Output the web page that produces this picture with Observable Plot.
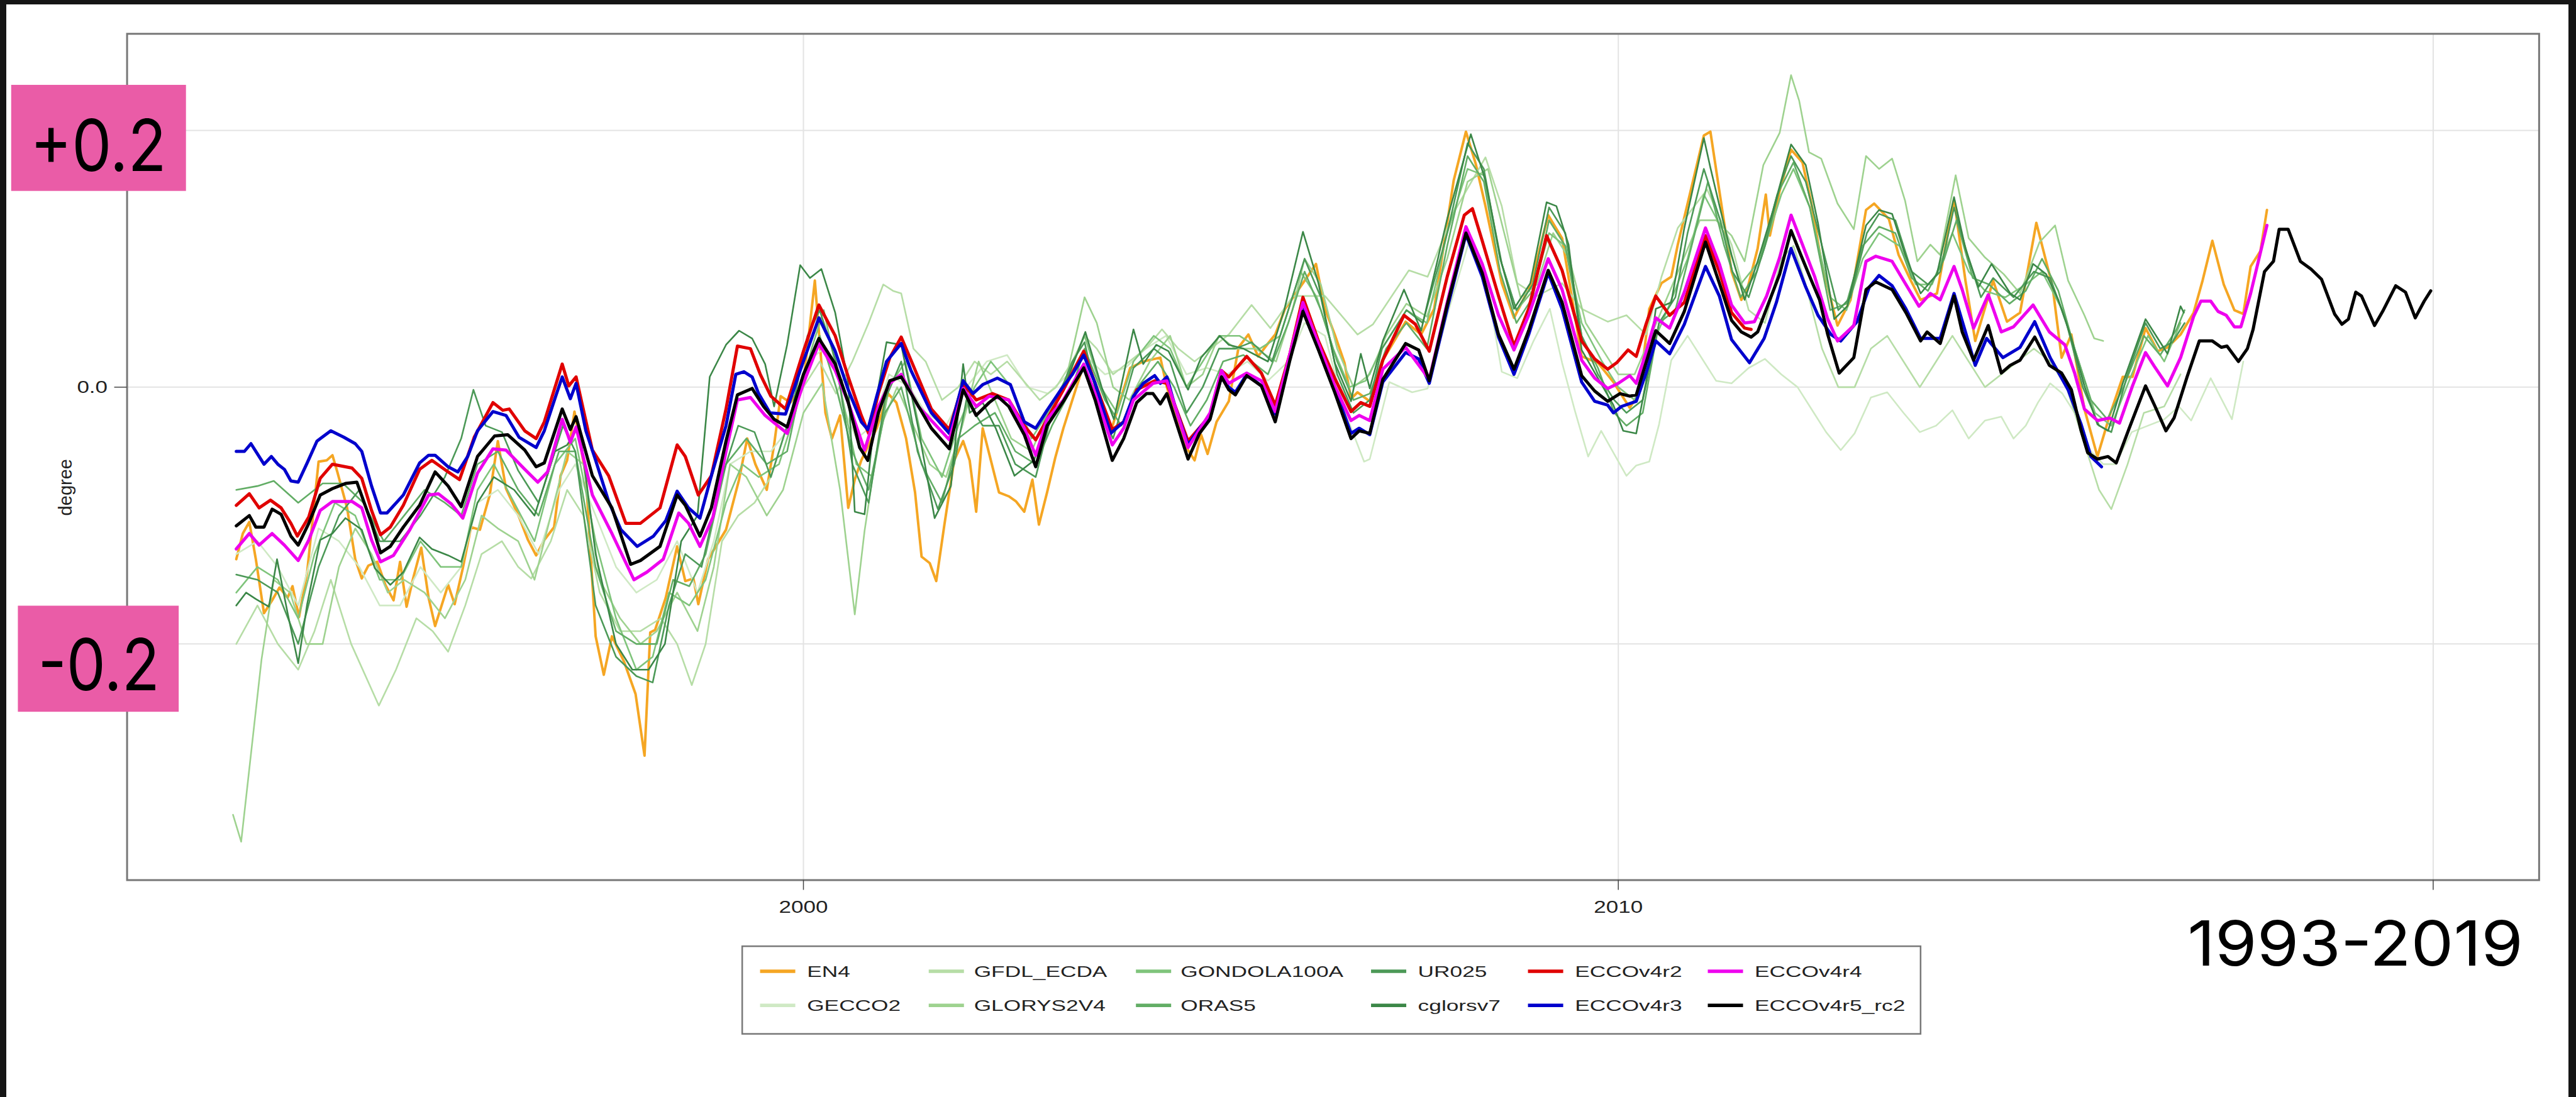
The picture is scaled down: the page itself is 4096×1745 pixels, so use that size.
<!DOCTYPE html>
<html><head><meta charset="utf-8">
<script src="https://cdn.jsdelivr.net/npm/d3@7"></script>
<script src="https://cdn.jsdelivr.net/npm/@observablehq/plot@0.6"></script>
<style>
html,body{margin:0;padding:0;background:#151515;width:4096px;height:1745px;overflow:hidden;}
#page{position:absolute;left:10px;top:7px;width:4074px;height:1738px;background:#fff;}
#chart{position:absolute;left:0;top:0;}
</style></head><body>
<div id="page"></div>
<div id="chart"></div>
<script>
// ---------------- data (year, degree) ----------------
const EN4 = [[1993.04,-0.134],[1993.12,-0.114],[1993.20,-0.105],[1993.28,-0.134],[1993.38,-0.176],[1993.48,-0.166],[1993.57,-0.156],[1993.67,-0.164],[1993.73,-0.155],[1993.81,-0.179],[1993.91,-0.144],[1994.05,-0.058],[1994.15,-0.057],[1994.22,-0.053],[1994.28,-0.066],[1994.40,-0.094],[1994.50,-0.134],[1994.58,-0.149],[1994.66,-0.139],[1994.77,-0.136],[1994.87,-0.154],[1994.97,-0.166],[1995.05,-0.136],[1995.13,-0.171],[1995.21,-0.149],[1995.31,-0.125],[1995.40,-0.164],[1995.48,-0.186],[1995.58,-0.166],[1995.64,-0.154],[1995.72,-0.169],[1995.82,-0.141],[1995.92,-0.109],[1996.03,-0.111],[1996.15,-0.084],[1996.25,-0.042],[1996.35,-0.079],[1996.51,-0.101],[1996.62,-0.119],[1996.72,-0.131],[1996.82,-0.119],[1996.94,-0.109],[1997.02,-0.069],[1997.10,-0.057],[1997.19,-0.019],[1997.33,-0.069],[1997.45,-0.194],[1997.55,-0.224],[1997.65,-0.194],[1997.80,-0.214],[1997.94,-0.239],[1998.05,-0.287],[1998.12,-0.191],[1998.18,-0.189],[1998.31,-0.164],[1998.45,-0.124],[1998.55,-0.151],[1998.65,-0.149],[1998.71,-0.169],[1998.83,-0.134],[1999.05,-0.111],[1999.21,-0.072],[1999.31,-0.040],[1999.41,-0.060],[1999.55,-0.080],[1999.64,-0.045],[1999.72,-0.007],[1999.84,-0.012],[2000.00,0.003],[2000.14,0.083],[2000.19,0.043],[2000.27,-0.020],[2000.35,-0.040],[2000.45,-0.022],[2000.55,-0.094],[2000.63,-0.072],[2000.71,-0.057],[2000.90,-0.032],[2001.04,-0.005],[2001.14,-0.012],[2001.26,-0.040],[2001.37,-0.082],[2001.45,-0.132],[2001.55,-0.137],[2001.63,-0.151],[2001.73,-0.107],[2001.85,-0.057],[2001.96,-0.042],[2002.04,-0.057],[2002.12,-0.097],[2002.20,-0.032],[2002.28,-0.052],[2002.40,-0.082],[2002.52,-0.085],[2002.61,-0.089],[2002.71,-0.097],[2002.81,-0.072],[2002.89,-0.107],[2002.99,-0.082],[2003.09,-0.055],[2003.19,-0.032],[2003.44,0.018],[2003.77,-0.035],[2004.01,0.015],[2004.17,0.020],[2004.38,0.023],[2004.46,0.000],[2004.68,-0.045],[2004.80,-0.057],[2004.88,-0.037],[2004.96,-0.052],[2005.07,-0.027],[2005.22,-0.011],[2005.34,0.031],[2005.46,0.041],[2005.58,0.024],[2005.70,0.034],[2005.79,0.041],[2005.91,0.061],[2006.13,0.081],[2006.29,0.096],[2006.40,0.061],[2006.52,0.041],[2006.64,0.019],[2006.72,-0.009],[2006.80,-0.004],[2006.95,-0.011],[2007.11,0.021],[2007.39,0.051],[2007.58,0.041],[2007.74,0.061],[2007.98,0.161],[2008.13,0.199],[2008.25,0.174],[2008.37,0.141],[2008.57,0.081],[2008.72,0.054],[2008.92,0.079],[2009.14,0.134],[2009.31,0.116],[2009.55,0.024],[2009.75,0.019],[2009.94,0.004],[2010.14,-0.016],[2010.26,-0.004],[2010.38,0.061],[2010.53,0.081],[2010.65,0.086],[2010.73,0.111],[2011.05,0.196],[2011.13,0.199],[2011.28,0.136],[2011.39,0.090],[2011.51,0.068],[2011.59,0.078],[2011.71,0.108],[2011.81,0.150],[2011.86,0.118],[2011.98,0.153],[2012.12,0.185],[2012.26,0.175],[2012.37,0.143],[2012.49,0.098],[2012.69,0.048],[2012.85,0.068],[2013.04,0.138],[2013.14,0.143],[2013.32,0.131],[2013.44,0.103],[2013.59,0.083],[2013.71,0.068],[2013.91,0.073],[2014.12,0.146],[2014.26,0.083],[2014.38,0.036],[2014.60,0.083],[2014.77,0.051],[2014.93,0.058],[2015.13,0.128],[2015.33,0.078],[2015.44,0.023],[2015.56,0.041],[2015.72,-0.017],[2015.88,-0.054],[2016.03,-0.022],[2016.19,0.008],[2016.31,0.008],[2016.47,0.046],[2016.62,0.028],[2016.74,0.031],[2016.90,0.041],[2017.06,0.058],[2017.17,0.083],[2017.29,0.114],[2017.43,0.080],[2017.56,0.060],[2017.67,0.057],[2017.76,0.094],[2017.88,0.106],[2017.96,0.138]];

const GECCO2 = [[1993.04,-0.13],[1993.3,-0.12],[1993.55,-0.14],[1993.8,-0.17],[1994.05,-0.11],[1994.3,-0.12],[1994.55,-0.14],[1994.8,-0.17],[1995.05,-0.17],[1995.3,-0.14],[1995.55,-0.16],[1995.8,-0.14],[1996.0,-0.09],[1996.25,-0.08],[1996.5,-0.1],[1996.75,-0.13],[1997.0,-0.08],[1997.2,-0.06],[1997.45,-0.1],[1997.7,-0.14],[1997.95,-0.16],[1998.2,-0.15],[1998.45,-0.12],[1998.7,-0.16],[1998.9,-0.12],[1999.1,-0.06],[1999.35,-0.05],[1999.6,-0.05],[1999.85,-0.03],[2000.05,0.02],[2000.25,0.03],[2000.45,-0.01],[2000.65,-0.04],[2000.85,-0.03],[2001.05,0.01],[2001.3,0.0],[2001.5,-0.02],[2001.75,-0.03],[2002.0,0.0],[2002.25,0.02],[2002.5,0.025],[2002.75,0.0],[2003.0,-0.005],[2003.25,0.01],[2003.45,0.025],[2003.7,0.01],[2003.95,0.015],[2004.2,0.03],[2004.45,0.04],[2004.7,0.01],[2004.95,0.015],[2005.2,0.01],[2005.45,0.02],[2005.7,0.005],[2005.95,0.02],[2006.15,0.05],[2006.4,0.04],[2006.65,-0.02],[2006.88,-0.058],[2006.95,-0.056],[2007.19,0.004],[2007.47,-0.004],[2007.66,-0.001],[2007.9,0.056],[2008.17,0.114],[2008.37,0.086],[2008.57,0.012],[2008.76,0.007],[2008.96,0.036],[2009.16,0.061],[2009.31,0.019],[2009.47,-0.019],[2009.63,-0.054],[2009.79,-0.034],[2009.94,-0.051],[2010.1,-0.069],[2010.22,-0.061],[2010.38,-0.058],[2010.5,-0.029],[2010.65,0.021],[2010.85,0.04],[2011.05,0.02],[2011.2,0.005],[2011.39,0.003],[2011.6,0.015],[2011.8,0.022],[2012.0,0.01],[2012.2,0.0],[2012.4,-0.02],[2012.55,-0.035],[2012.73,-0.049],[2012.9,-0.036],[2013.1,-0.008],[2013.3,-0.004],[2013.5,-0.02],[2013.7,-0.035],[2013.9,-0.03],[2014.1,-0.018],[2014.3,-0.04],[2014.5,-0.026],[2014.7,-0.023],[2014.85,-0.04],[2015.0,-0.03],[2015.15,-0.012],[2015.3,0.003],[2015.45,-0.005],[2015.6,-0.02],[2015.8,-0.05],[2015.95,-0.06],[2016.1,-0.06],[2016.3,-0.035],[2016.5,-0.03],[2016.7,-0.025],[2016.88,-0.015],[2017.03,-0.026],[2017.27,0.007],[2017.53,-0.025],[2017.67,0.02]];

const GFDL_ECDA = [[1993.04,-0.2],[1993.3,-0.17],[1993.55,-0.2],[1993.8,-0.22],[1994.0,-0.19],[1994.2,-0.15],[1994.45,-0.2],[1994.79,-0.248],[1995.0,-0.22],[1995.25,-0.18],[1995.45,-0.19],[1995.64,-0.206],[1995.85,-0.17],[1996.05,-0.13],[1996.3,-0.12],[1996.5,-0.14],[1996.66,-0.149],[1996.9,-0.12],[1997.1,-0.08],[1997.3,-0.1],[1997.5,-0.16],[1997.75,-0.19],[1998.0,-0.19],[1998.25,-0.18],[1998.45,-0.2],[1998.63,-0.232],[1998.8,-0.2],[1999.0,-0.12],[1999.2,-0.1],[1999.4,-0.09],[1999.6,-0.07],[1999.8,-0.03],[2000.0,0.0],[2000.2,0.02],[2000.4,-0.005],[2000.6,0.02],[2000.8,0.05],[2000.98,0.08],[2001.1,0.075],[2001.2,0.073],[2001.35,0.03],[2001.5,0.02],[2001.7,-0.01],[2001.9,0.0],[2002.1,0.02],[2002.3,0.01],[2002.5,0.02],[2002.7,0.005],[2002.9,-0.01],[2003.1,0.0],[2003.3,0.02],[2003.45,0.04],[2003.6,0.03],[2003.8,0.01],[2004.0,0.02],[2004.2,0.03],[2004.4,0.045],[2004.6,0.03],[2004.8,0.02],[2005.0,0.03],[2005.22,0.041],[2005.5,0.064],[2005.73,0.046],[2006.01,0.071],[2006.4,0.071],[2006.8,0.041],[2006.99,0.049],[2007.43,0.091],[2007.66,0.086],[2007.98,0.136],[2008.37,0.179],[2008.57,0.141],[2008.76,0.081],[2009.0,0.071],[2009.31,0.081],[2009.55,0.061],[2009.87,0.051],[2010.1,0.056],[2010.34,0.041],[2010.53,0.086],[2010.73,0.124],[2011.09,0.154],[2011.39,0.111],[2011.6,0.06],[2011.8,0.05],[2012.0,0.1],[2012.15,0.11],[2012.3,0.08],[2012.5,0.03],[2012.7,0.0],[2012.9,0.0],[2013.1,0.03],[2013.3,0.04],[2013.5,0.02],[2013.7,0.0],[2013.9,0.02],[2014.1,0.04],[2014.3,0.02],[2014.5,0.0],[2014.7,0.01],[2014.9,0.02],[2015.1,0.03],[2015.3,0.02],[2015.5,0.0],[2015.7,-0.04],[2015.9,-0.08],[2016.05,-0.095],[2016.25,-0.06],[2016.45,-0.02],[2016.7,-0.015],[2016.9,0.01]];

const GLORYS2V4 = [[1993.0,-0.333],[1993.1,-0.354],[1993.35,-0.212],[1993.5,-0.15],[1993.7,-0.16],[1993.9,-0.2],[1994.1,-0.2],[1994.3,-0.14],[1994.5,-0.11],[1994.7,-0.13],[1994.9,-0.16],[1995.1,-0.15],[1995.35,-0.16],[1995.6,-0.18],[1995.85,-0.15],[1996.05,-0.1],[1996.25,-0.11],[1996.5,-0.12],[1996.7,-0.15],[1996.9,-0.1],[1997.1,-0.05],[1997.3,-0.06],[1997.5,-0.15],[1997.75,-0.18],[1998.0,-0.2],[1998.2,-0.19],[1998.45,-0.16],[1998.7,-0.19],[1998.9,-0.14],[1999.1,-0.06],[1999.3,-0.07],[1999.55,-0.1],[1999.75,-0.08],[2000.0,-0.02],[2000.23,0.003],[2000.45,-0.08],[2000.63,-0.177],[2000.75,-0.112],[2000.94,-0.032],[2001.15,0.0],[2001.35,-0.03],[2001.55,-0.06],[2001.75,-0.07],[2001.95,-0.03],[2002.15,0.02],[2002.35,-0.01],[2002.55,-0.04],[2002.8,-0.05],[2003.0,-0.02],[2003.2,0.0],[2003.45,0.07],[2003.6,0.05],[2003.8,0.0],[2004.0,-0.01],[2004.25,0.02],[2004.5,0.04],[2004.7,0.0],[2004.9,0.01],[2005.1,0.04],[2005.3,0.03],[2005.55,0.03],[2005.8,0.02],[2006.0,0.06],[2006.15,0.1],[2006.35,0.08],[2006.55,0.03],[2006.75,0.0],[2006.95,0.01],[2007.15,0.04],[2007.4,0.065],[2007.65,0.055],[2007.9,0.1],[2008.15,0.16],[2008.4,0.17],[2008.6,0.12],[2008.8,0.07],[2009.0,0.08],[2009.2,0.12],[2009.4,0.1],[2009.6,0.05],[2009.8,0.03],[2010.0,0.01],[2010.2,0.01],[2010.4,0.04],[2010.6,0.07],[2010.8,0.1],[2011.0,0.13],[2011.2,0.13],[2011.39,0.118],[2011.55,0.098],[2011.78,0.173],[2011.98,0.198],[2012.12,0.243],[2012.22,0.223],[2012.34,0.183],[2012.49,0.178],[2012.69,0.143],[2012.89,0.123],[2013.04,0.18],[2013.2,0.17],[2013.36,0.178],[2013.52,0.145],[2013.67,0.098],[2013.83,0.111],[2013.95,0.103],[2014.14,0.165],[2014.3,0.116],[2014.5,0.101],[2014.73,0.088],[2014.93,0.073],[2015.17,0.113],[2015.36,0.126],[2015.52,0.083],[2015.72,0.056],[2015.84,0.038],[2015.95,0.036]];

const GONDOLA100A = [[1993.04,-0.16],[1993.3,-0.14],[1993.55,-0.15],[1993.8,-0.18],[1994.0,-0.13],[1994.25,-0.09],[1994.5,-0.1],[1994.8,-0.15],[1995.05,-0.15],[1995.3,-0.12],[1995.55,-0.14],[1995.8,-0.14],[1996.0,-0.08],[1996.2,-0.06],[1996.45,-0.09],[1996.7,-0.12],[1996.95,-0.06],[1997.2,-0.04],[1997.45,-0.12],[1997.7,-0.18],[1997.95,-0.22],[1998.15,-0.21],[1998.35,-0.16],[1998.6,-0.17],[1998.8,-0.15],[1999.05,-0.09],[1999.25,-0.06],[1999.45,-0.07],[1999.7,-0.06],[1999.9,-0.02],[2000.1,0.03],[2000.25,0.06],[2000.45,0.0],[2000.65,-0.06],[2000.85,-0.07],[2001.05,0.0],[2001.25,0.02],[2001.45,-0.04],[2001.7,-0.07],[2001.9,-0.03],[2002.1,0.0],[2002.3,0.02],[2002.55,0.0],[2002.8,-0.04],[2003.0,-0.02],[2003.25,0.01],[2003.45,0.04],[2003.65,0.0],[2003.85,-0.02],[2004.05,0.02],[2004.3,0.04],[2004.5,0.03],[2004.7,0.0],[2004.9,0.02],[2005.1,0.04],[2005.35,0.04],[2005.6,0.03],[2005.85,0.04],[2006.1,0.09],[2006.3,0.07],[2006.5,0.03],[2006.7,0.0],[2006.9,0.005],[2007.1,0.03],[2007.4,0.06],[2007.65,0.05],[2007.9,0.12],[2008.15,0.17],[2008.35,0.165],[2008.55,0.1],[2008.75,0.06],[2008.95,0.075],[2009.15,0.12],[2009.35,0.11],[2009.55,0.05],[2009.8,0.02],[2010.0,0.0],[2010.2,-0.01],[2010.4,0.03],[2010.6,0.06],[2010.85,0.1],[2011.05,0.15],[2011.3,0.12],[2011.5,0.08],[2011.75,0.1],[2012.0,0.15],[2012.15,0.17],[2012.35,0.14],[2012.6,0.07],[2012.8,0.06],[2013.0,0.1],[2013.2,0.12],[2013.45,0.11],[2013.65,0.08],[2013.85,0.08],[2014.1,0.12],[2014.3,0.09],[2014.5,0.075],[2014.75,0.07],[2015.0,0.08],[2015.2,0.09],[2015.45,0.06],[2015.65,0.02],[2015.85,-0.02],[2016.05,-0.03],[2016.3,0.01],[2016.5,0.04],[2016.7,0.02],[2016.9,0.05]];

const ORAS5 = [[1993.04,-0.08],[1993.3,-0.077],[1993.5,-0.073],[1993.8,-0.09],[1994.1,-0.075],[1994.35,-0.075],[1994.6,-0.09],[1994.85,-0.12],[1995.1,-0.1],[1995.35,-0.08],[1995.6,-0.09],[1995.8,-0.1],[1996.0,-0.06],[1996.25,-0.05],[1996.5,-0.08],[1996.75,-0.1],[1997.0,-0.05],[1997.2,-0.05],[1997.45,-0.14],[1997.7,-0.19],[1997.95,-0.2],[1998.2,-0.2],[1998.4,-0.15],[1998.6,-0.155],[1998.8,-0.13],[1999.05,-0.06],[1999.3,-0.04],[1999.55,-0.06],[1999.8,-0.05],[2000.0,0.01],[2000.2,0.04],[2000.4,0.0],[2000.6,-0.05],[2000.8,-0.08],[2001.0,-0.02],[2001.2,0.0],[2001.45,-0.06],[2001.7,-0.09],[2001.9,-0.04],[2002.1,-0.03],[2002.35,-0.02],[2002.6,-0.05],[2002.85,-0.06],[2003.05,-0.03],[2003.3,0.0],[2003.45,0.03],[2003.7,-0.01],[2003.9,-0.03],[2004.1,0.0],[2004.35,0.02],[2004.55,0.0],[2004.75,-0.03],[2004.95,-0.01],[2005.15,0.02],[2005.4,0.025],[2005.7,0.01],[2005.95,0.05],[2006.15,0.09],[2006.35,0.06],[2006.55,0.02],[2006.75,-0.01],[2006.95,-0.005],[2007.15,0.03],[2007.4,0.05],[2007.65,0.03],[2007.9,0.11],[2008.15,0.18],[2008.35,0.16],[2008.55,0.09],[2008.75,0.05],[2008.95,0.07],[2009.15,0.13],[2009.35,0.11],[2009.55,0.04],[2009.75,0.015],[2009.95,-0.02],[2010.1,-0.03],[2010.3,-0.02],[2010.5,0.05],[2010.7,0.06],[2010.9,0.11],[2011.1,0.16],[2011.3,0.11],[2011.5,0.07],[2011.7,0.09],[2011.95,0.15],[2012.15,0.175],[2012.35,0.14],[2012.6,0.06],[2012.8,0.065],[2013.0,0.11],[2013.2,0.125],[2013.4,0.12],[2013.6,0.085],[2013.8,0.075],[2014.0,0.1],[2014.15,0.13],[2014.35,0.085],[2014.55,0.08],[2014.8,0.065],[2015.0,0.075],[2015.2,0.1],[2015.4,0.075],[2015.6,0.03],[2015.8,-0.01],[2016.0,-0.025],[2016.2,0.0],[2016.45,0.04],[2016.65,0.025],[2016.85,0.045],[2016.95,0.06]];

const UR025 = [[1993.04,-0.146],[1993.3,-0.15],[1993.55,-0.16],[1993.8,-0.2],[1994.05,-0.14],[1994.3,-0.1],[1994.55,-0.08],[1994.8,-0.12],[1995.05,-0.12],[1995.3,-0.1],[1995.6,-0.07],[1995.8,-0.04],[1995.95,-0.002],[1996.1,-0.03],[1996.3,-0.035],[1996.5,-0.065],[1996.75,-0.09],[1997.05,-0.03],[1997.2,-0.05],[1997.45,-0.17],[1997.7,-0.21],[1997.95,-0.225],[1998.15,-0.23],[1998.35,-0.17],[1998.55,-0.13],[1998.75,-0.14],[1999.0,-0.07],[1999.2,-0.03],[1999.4,-0.035],[1999.6,-0.07],[1999.85,-0.02],[2000.05,0.04],[2000.2,0.06],[2000.4,0.02],[2000.6,-0.06],[2000.8,-0.09],[2001.0,-0.01],[2001.2,0.02],[2001.4,-0.05],[2001.65,-0.095],[2001.85,-0.06],[2002.0,-0.01],[2002.2,-0.03],[2002.4,-0.03],[2002.6,-0.06],[2002.85,-0.07],[2003.05,-0.02],[2003.3,0.02],[2003.45,0.035],[2003.65,-0.02],[2003.8,-0.04],[2004.05,0.015],[2004.3,0.03],[2004.5,0.02],[2004.7,-0.02],[2004.9,0.0],[2005.1,0.03],[2005.3,0.03],[2005.5,0.035],[2005.75,0.02],[2006.0,0.07],[2006.15,0.1],[2006.35,0.07],[2006.55,0.01],[2006.75,-0.02],[2006.95,-0.01],[2007.1,0.03],[2007.4,0.06],[2007.6,0.05],[2007.9,0.12],[2008.15,0.19],[2008.35,0.17],[2008.55,0.1],[2008.75,0.06],[2008.95,0.08],[2009.15,0.14],[2009.35,0.12],[2009.55,0.04],[2009.75,0.01],[2009.95,-0.01],[2010.1,-0.02],[2010.3,-0.01],[2010.5,0.05],[2010.7,0.07],[2010.85,0.12],[2011.05,0.17],[2011.25,0.13],[2011.4,0.09],[2011.6,0.07],[2011.8,0.11],[2012.0,0.16],[2012.12,0.18],[2012.3,0.16],[2012.5,0.11],[2012.7,0.06],[2012.85,0.07],[2013.05,0.12],[2013.2,0.135],[2013.4,0.13],[2013.6,0.09],[2013.8,0.08],[2013.95,0.09],[2014.12,0.14],[2014.3,0.1],[2014.45,0.07],[2014.6,0.085],[2014.85,0.07],[2015.1,0.09],[2015.3,0.085],[2015.5,0.05],[2015.7,0.0],[2015.9,-0.03],[2016.05,-0.035],[2016.25,0.01],[2016.47,0.05],[2016.65,0.03],[2016.8,0.035],[2016.95,0.05]];

const cglorsv7 = [[1993.04,-0.170],[1993.16,-0.160],[1993.28,-0.165],[1993.44,-0.171],[1993.54,-0.134],[1993.67,-0.176],[1993.80,-0.215],[1993.91,-0.169],[1994.07,-0.119],[1994.22,-0.114],[1994.38,-0.102],[1994.58,-0.111],[1994.74,-0.141],[1994.93,-0.154],[1995.09,-0.144],[1995.29,-0.117],[1995.44,-0.126],[1995.64,-0.131],[1995.80,-0.136],[1996.0,-0.09],[1996.2,-0.07],[1996.45,-0.08],[1996.7,-0.1],[1996.95,-0.05],[1997.1,-0.045],[1997.25,-0.03],[1997.45,-0.13],[1997.7,-0.2],[1997.9,-0.22],[1998.1,-0.22],[1998.3,-0.2],[1998.5,-0.12],[1998.7,-0.1],[1998.85,0.008],[1999.05,0.033],[1999.21,0.044],[1999.37,0.038],[1999.53,0.018],[1999.64,-0.015],[1999.80,0.033],[1999.96,0.095],[2000.08,0.085],[2000.22,0.092],[2000.39,0.058],[2000.55,0.003],[2000.63,-0.097],[2000.75,-0.099],[2000.90,-0.007],[2001.02,0.035],[2001.20,0.033],[2001.41,-0.032],[2001.61,-0.102],[2001.81,-0.077],[2001.96,0.018],[2002.04,-0.020],[2002.20,-0.012],[2002.36,-0.032],[2002.59,-0.069],[2002.83,-0.057],[2002.99,-0.025],[2003.19,-0.002],[2003.46,0.043],[2003.66,0.000],[2003.81,-0.025],[2004.05,0.045],[2004.17,0.018],[2004.33,0.033],[2004.48,0.028],[2004.72,-0.002],[2004.88,0.023],[2005.11,0.040],[2005.22,0.033],[2005.4,0.03],[2005.7,0.02],[2005.9,0.06],[2006.13,0.121],[2006.32,0.081],[2006.52,0.019],[2006.72,-0.011],[2006.84,0.026],[2006.95,-0.001],[2007.11,0.036],[2007.37,0.076],[2007.58,0.044],[2007.90,0.131],[2008.19,0.197],[2008.37,0.161],[2008.57,0.096],[2008.72,0.061],[2008.92,0.081],[2009.12,0.144],[2009.24,0.141],[2009.39,0.111],[2009.55,0.029],[2009.75,0.007],[2009.94,-0.014],[2010.06,-0.034],[2010.22,-0.036],[2010.34,0.004],[2010.46,0.061],[2010.65,0.066],[2010.81,0.124],[2011.05,0.194],[2011.13,0.171],[2011.28,0.131],[2011.39,0.103],[2011.55,0.068],[2011.71,0.098],[2011.90,0.138],[2012.12,0.189],[2012.30,0.173],[2012.45,0.128],[2012.65,0.053],[2012.81,0.063],[2013.04,0.126],[2013.20,0.138],[2013.36,0.135],[2013.52,0.103],[2013.71,0.073],[2013.91,0.088],[2014.12,0.148],[2014.26,0.108],[2014.42,0.078],[2014.58,0.096],[2014.81,0.073],[2014.93,0.068],[2015.09,0.096],[2015.25,0.088],[2015.40,0.068],[2015.56,0.038],[2015.72,0.001],[2015.88,-0.029],[2016.01,-0.034],[2016.19,0.003],[2016.47,0.053],[2016.62,0.038],[2016.74,0.026],[2016.90,0.063],[2016.94,0.058]];

const ECCOv4r2 = [[1993.04,-0.092],[1993.20,-0.083],[1993.32,-0.094],[1993.46,-0.088],[1993.59,-0.094],[1993.71,-0.106],[1993.79,-0.116],[1993.93,-0.101],[1994.07,-0.071],[1994.22,-0.060],[1994.46,-0.063],[1994.58,-0.071],[1994.70,-0.096],[1994.81,-0.115],[1994.93,-0.109],[1995.09,-0.092],[1995.29,-0.064],[1995.44,-0.057],[1995.64,-0.066],[1995.78,-0.072],[1995.96,-0.039],[1996.19,-0.012],[1996.31,-0.018],[1996.39,-0.017],[1996.58,-0.034],[1996.72,-0.040],[1996.82,-0.027],[1997.04,0.018],[1997.12,0.001],[1997.21,0.008],[1997.41,-0.049],[1997.61,-0.069],[1997.82,-0.106],[1998.00,-0.106],[1998.24,-0.094],[1998.45,-0.045],[1998.55,-0.054],[1998.71,-0.084],[1998.87,-0.069],[1999.05,-0.017],[1999.19,0.032],[1999.35,0.030],[1999.47,0.010],[1999.60,-0.007],[1999.78,-0.017],[2000.00,0.028],[2000.19,0.064],[2000.39,0.040],[2000.55,0.008],[2000.71,-0.022],[2000.80,-0.036],[2000.92,-0.005],[2001.06,0.023],[2001.20,0.039],[2001.34,0.018],[2001.57,-0.017],[2001.79,-0.033],[2001.96,0.003],[2002.12,-0.010],[2002.32,-0.005],[2002.52,-0.010],[2002.71,-0.030],[2002.85,-0.041],[2002.99,-0.025],[2003.19,-0.002],[2003.44,0.028],[2003.58,0.003],[2003.79,-0.033],[2003.93,-0.027],[2004.09,-0.002],[2004.31,0.005],[2004.46,0.003],[2004.72,-0.042],[2004.99,-0.022],[2005.13,0.013],[2005.22,0.008],[2005.44,0.024],[2005.62,0.011],[2005.79,-0.014],[2005.97,0.026],[2006.13,0.070],[2006.32,0.036],[2006.52,0.007],[2006.72,-0.019],[2006.84,-0.012],[2006.95,-0.015],[2007.11,0.021],[2007.37,0.056],[2007.51,0.049],[2007.68,0.028],[2007.90,0.086],[2008.11,0.134],[2008.21,0.139],[2008.33,0.114],[2008.53,0.071],[2008.72,0.032],[2008.90,0.061],[2009.12,0.118],[2009.31,0.091],[2009.55,0.036],[2009.71,0.022],[2009.87,0.014],[2009.98,0.019],[2010.12,0.029],[2010.22,0.024],[2010.34,0.049],[2010.46,0.071],[2010.63,0.056],[2010.81,0.066],[2011.07,0.118],[2011.24,0.090],[2011.39,0.058],[2011.55,0.046],[2011.63,0.045]];

const ECCOv4r3 = [[1993.04,-0.050],[1993.14,-0.050],[1993.22,-0.044],[1993.38,-0.060],[1993.47,-0.054],[1993.55,-0.060],[1993.63,-0.064],[1993.71,-0.073],[1993.80,-0.074],[1993.91,-0.059],[1994.03,-0.042],[1994.20,-0.034],[1994.36,-0.039],[1994.50,-0.044],[1994.58,-0.050],[1994.70,-0.077],[1994.81,-0.098],[1994.89,-0.098],[1995.09,-0.084],[1995.29,-0.059],[1995.40,-0.053],[1995.48,-0.053],[1995.64,-0.062],[1995.76,-0.066],[1995.88,-0.054],[1996.00,-0.034],[1996.19,-0.019],[1996.35,-0.022],[1996.51,-0.039],[1996.72,-0.047],[1996.82,-0.034],[1996.96,-0.007],[1997.04,0.008],[1997.14,-0.009],[1997.21,0.003],[1997.33,-0.034],[1997.45,-0.057],[1997.61,-0.089],[1997.76,-0.111],[1997.96,-0.124],[1998.16,-0.116],[1998.31,-0.104],[1998.45,-0.081],[1998.59,-0.094],[1998.73,-0.102],[1998.87,-0.069],[1999.05,-0.030],[1999.17,0.010],[1999.27,0.012],[1999.37,0.008],[1999.45,-0.005],[1999.59,-0.020],[1999.78,-0.021],[1999.96,0.013],[2000.19,0.054],[2000.39,0.028],[2000.55,-0.002],[2000.71,-0.027],[2000.79,-0.033],[2000.90,-0.007],[2001.02,0.020],[2001.20,0.034],[2001.32,0.013],[2001.57,-0.020],[2001.79,-0.036],[2001.96,0.005],[2002.08,-0.005],[2002.20,0.002],[2002.38,0.007],[2002.54,0.002],[2002.71,-0.027],[2002.85,-0.032],[2002.99,-0.018],[2003.17,-0.001],[2003.30,0.010],[2003.44,0.025],[2003.58,0.003],[2003.77,-0.036],[2003.93,-0.027],[2004.05,-0.007],[2004.17,0.003],[2004.31,0.009],[2004.38,0.003],[2004.46,0.008],[2004.56,-0.015],[2004.72,-0.045],[2004.86,-0.032],[2004.99,-0.022],[2005.13,0.008],[2005.22,0.000],[2005.30,-0.004],[2005.44,0.010],[2005.62,0.001],[2005.79,-0.021],[2005.97,0.024],[2006.13,0.061],[2006.32,0.031],[2006.52,-0.001],[2006.72,-0.036],[2006.82,-0.032],[2006.95,-0.037],[2007.11,0.004],[2007.39,0.027],[2007.55,0.022],[2007.68,0.003],[2007.90,0.061],[2008.13,0.119],[2008.33,0.086],[2008.53,0.039],[2008.72,0.010],[2008.90,0.041],[2009.14,0.089],[2009.31,0.061],[2009.55,0.004],[2009.71,-0.011],[2009.87,-0.014],[2009.94,-0.020],[2010.04,-0.015],[2010.22,-0.011],[2010.34,0.011],[2010.46,0.036],[2010.63,0.026],[2010.81,0.049],[2011.07,0.094],[2011.24,0.071],[2011.39,0.037],[2011.61,0.019],[2011.79,0.038],[2011.94,0.066],[2012.12,0.108],[2012.30,0.078],[2012.45,0.056],[2012.61,0.041],[2012.73,0.036],[2012.93,0.051],[2013.08,0.078],[2013.20,0.087],[2013.36,0.079],[2013.53,0.061],[2013.71,0.038],[2013.95,0.038],[2014.12,0.073],[2014.26,0.043],[2014.38,0.017],[2014.52,0.038],[2014.72,0.023],[2014.93,0.031],[2015.11,0.051],[2015.30,0.023],[2015.52,-0.002],[2015.68,-0.029],[2015.80,-0.054],[2015.93,-0.062]];

const ECCOv4r4 = [[1993.04,-0.126],[1993.20,-0.114],[1993.32,-0.123],[1993.48,-0.114],[1993.63,-0.123],[1993.80,-0.135],[1993.93,-0.119],[1994.07,-0.096],[1994.22,-0.089],[1994.46,-0.089],[1994.58,-0.094],[1994.70,-0.119],[1994.81,-0.136],[1994.97,-0.131],[1995.17,-0.111],[1995.40,-0.084],[1995.52,-0.083],[1995.68,-0.091],[1995.82,-0.102],[1996.00,-0.067],[1996.19,-0.048],[1996.35,-0.049],[1996.58,-0.064],[1996.74,-0.074],[1996.86,-0.066],[1997.04,-0.025],[1997.14,-0.043],[1997.21,-0.031],[1997.41,-0.084],[1997.65,-0.114],[1997.92,-0.150],[1998.08,-0.144],[1998.28,-0.134],[1998.47,-0.098],[1998.59,-0.106],[1998.73,-0.124],[1998.89,-0.101],[1999.05,-0.050],[1999.19,-0.010],[1999.35,-0.008],[1999.53,-0.022],[1999.80,-0.036],[2000.00,0.003],[2000.19,0.034],[2000.39,0.013],[2000.55,-0.012],[2000.75,-0.049],[2000.92,-0.015],[2001.06,0.003],[2001.20,0.010],[2001.41,-0.015],[2001.79,-0.041],[2001.96,-0.001],[2002.12,-0.015],[2002.28,-0.007],[2002.52,-0.010],[2002.71,-0.032],[2002.85,-0.053],[2002.99,-0.025],[2003.19,-0.010],[2003.44,0.018],[2003.58,-0.005],[2003.79,-0.045],[2003.93,-0.032],[2004.05,-0.010],[2004.29,0.003],[2004.46,0.005],[2004.72,-0.047],[2004.99,-0.020],[2005.13,0.013],[2005.22,0.003],[2005.44,0.011],[2005.62,0.005],[2005.79,-0.019],[2005.97,0.026],[2006.13,0.066],[2006.32,0.034],[2006.52,0.001],[2006.72,-0.026],[2006.82,-0.022],[2006.95,-0.026],[2007.11,0.014],[2007.39,0.031],[2007.68,0.006],[2007.90,0.066],[2008.13,0.125],[2008.33,0.096],[2008.53,0.056],[2008.72,0.029],[2008.90,0.056],[2009.14,0.100],[2009.31,0.076],[2009.55,0.021],[2009.71,0.007],[2009.87,-0.001],[2010.00,0.003],[2010.14,0.009],[2010.22,0.003],[2010.34,0.027],[2010.46,0.054],[2010.63,0.046],[2010.81,0.074],[2011.07,0.124],[2011.24,0.096],[2011.39,0.064],[2011.55,0.050],[2011.67,0.051],[2011.82,0.071],[2011.98,0.101],[2012.12,0.134],[2012.26,0.111],[2012.41,0.086],[2012.57,0.053],[2012.69,0.036],[2012.89,0.048],[2013.04,0.098],[2013.16,0.102],[2013.36,0.098],[2013.52,0.081],[2013.69,0.063],[2013.83,0.073],[2013.95,0.068],[2014.12,0.094],[2014.22,0.076],[2014.36,0.046],[2014.54,0.072],[2014.70,0.043],[2014.85,0.047],[2015.09,0.064],[2015.29,0.043],[2015.48,0.033],[2015.60,0.011],[2015.72,-0.017],[2015.88,-0.026],[2016.03,-0.024],[2016.15,-0.028],[2016.31,0.001],[2016.47,0.027],[2016.58,0.016],[2016.74,0.001],[2016.90,0.023],[2017.06,0.055],[2017.15,0.067],[2017.27,0.067],[2017.36,0.059],[2017.46,0.056],[2017.56,0.047],[2017.64,0.047],[2017.76,0.073],[2017.96,0.126]];

const ECCOv4r5_rc2 = [[1993.04,-0.108],[1993.20,-0.100],[1993.28,-0.109],[1993.38,-0.109],[1993.48,-0.095],[1993.59,-0.099],[1993.71,-0.116],[1993.80,-0.123],[1993.93,-0.106],[1994.07,-0.084],[1994.22,-0.079],[1994.38,-0.075],[1994.52,-0.074],[1994.70,-0.106],[1994.81,-0.129],[1994.93,-0.124],[1995.09,-0.109],[1995.29,-0.092],[1995.48,-0.066],[1995.64,-0.077],[1995.80,-0.093],[1996.00,-0.054],[1996.21,-0.038],[1996.37,-0.037],[1996.58,-0.049],[1996.72,-0.062],[1996.82,-0.059],[1997.04,-0.017],[1997.14,-0.033],[1997.21,-0.023],[1997.41,-0.069],[1997.65,-0.094],[1997.88,-0.138],[1998.00,-0.135],[1998.24,-0.124],[1998.45,-0.084],[1998.55,-0.092],[1998.73,-0.116],[1998.87,-0.094],[1999.05,-0.042],[1999.19,-0.006],[1999.37,-0.001],[1999.51,-0.015],[1999.64,-0.025],[1999.80,-0.031],[2000.00,0.010],[2000.19,0.038],[2000.39,0.018],[2000.55,-0.012],[2000.69,-0.047],[2000.79,-0.057],[2000.92,-0.020],[2001.06,0.005],[2001.20,0.008],[2001.34,-0.007],[2001.57,-0.032],[2001.79,-0.048],[2001.96,-0.002],[2002.12,-0.022],[2002.28,-0.012],[2002.38,-0.007],[2002.52,-0.015],[2002.71,-0.037],[2002.85,-0.062],[2002.99,-0.030],[2003.19,-0.011],[2003.44,0.015],[2003.58,-0.010],[2003.79,-0.057],[2003.93,-0.040],[2004.09,-0.012],[2004.21,-0.005],[2004.29,-0.005],[2004.38,-0.013],[2004.46,-0.005],[2004.72,-0.056],[2004.86,-0.036],[2004.99,-0.025],[2005.13,0.008],[2005.22,-0.002],[2005.30,-0.006],[2005.44,0.009],[2005.62,0.001],[2005.79,-0.027],[2005.97,0.021],[2006.13,0.059],[2006.32,0.029],[2006.52,-0.004],[2006.72,-0.040],[2006.82,-0.034],[2006.95,-0.036],[2007.11,0.006],[2007.39,0.034],[2007.55,0.029],[2007.68,0.005],[2007.90,0.064],[2008.13,0.120],[2008.33,0.089],[2008.53,0.041],[2008.72,0.014],[2008.90,0.044],[2009.14,0.091],[2009.31,0.066],[2009.55,0.009],[2009.71,-0.003],[2009.87,-0.011],[2010.02,-0.005],[2010.14,-0.007],[2010.22,-0.006],[2010.34,0.019],[2010.46,0.044],[2010.63,0.034],[2010.81,0.059],[2011.07,0.113],[2011.24,0.081],[2011.39,0.052],[2011.51,0.043],[2011.63,0.039],[2011.71,0.043],[2011.86,0.068],[2011.98,0.088],[2012.12,0.122],[2012.24,0.103],[2012.37,0.083],[2012.47,0.068],[2012.57,0.041],[2012.71,0.011],[2012.89,0.023],[2013.04,0.076],[2013.16,0.082],[2013.36,0.076],[2013.53,0.058],[2013.71,0.036],[2013.79,0.043],[2013.95,0.034],[2014.12,0.071],[2014.22,0.043],[2014.36,0.021],[2014.54,0.048],[2014.70,0.011],[2014.81,0.017],[2014.93,0.021],[2015.11,0.039],[2015.29,0.017],[2015.44,0.011],[2015.56,-0.002],[2015.68,-0.034],[2015.76,-0.051],[2015.88,-0.056],[2016.01,-0.054],[2016.11,-0.059],[2016.27,-0.032],[2016.47,0.001],[2016.58,-0.014],[2016.72,-0.034],[2016.82,-0.024],[2016.98,0.008],[2017.13,0.036],[2017.29,0.036],[2017.40,0.031],[2017.47,0.032],[2017.61,0.020],[2017.72,0.030],[2017.79,0.045],[2017.93,0.090],[2018.04,0.098],[2018.11,0.123],[2018.22,0.123],[2018.37,0.098],[2018.50,0.092],[2018.63,0.084],[2018.79,0.057],[2018.88,0.049],[2018.96,0.053],[2019.05,0.074],[2019.12,0.071],[2019.28,0.048],[2019.38,0.059],[2019.54,0.079],[2019.66,0.074],[2019.78,0.054],[2019.89,0.067],[2019.97,0.075]];

// series names in drawing / legend order
const seriesNames = ["EN4","GECCO2","GFDL_ECDA","GLORYS2V4","GONDOLA100A","ORAS5","UR025","cglorsv7","ECCOv4r2","ECCOv4r3","ECCOv4r4","ECCOv4r5_rc2"];
const seriesData = {EN4, GECCO2, GFDL_ECDA, GLORYS2V4, GONDOLA100A, ORAS5, UR025, cglorsv7, ECCOv4r2, ECCOv4r3, ECCOv4r4, ECCOv4r5_rc2};
const xTicks = [2000, 2010, 2020];
const xTickLabels = ["2000", "2010", ""];      // 2020 label is not visible in the reference
const yTicks = [-0.2, 0, 0.2];
const yTickLabels = ["", "0.0", ""];           // ±0.2 are shown as pink annotations
const boxLabels = ["+0.2", "-0.2"];
const periodLabel = "1993-2019";
const yLabel = "degree";

// ---------------- styles ----------------
const colors = {
  EN4:"#f5a623", GECCO2:"#cfe9c4", GFDL_ECDA:"#b6dda6", GLORYS2V4:"#9ed28f",
  GONDOLA100A:"#7fc47b", ORAS5:"#62ad65", UR025:"#4c9957", cglorsv7:"#3b8747",
  ECCOv4r2:"#e00000", ECCOv4r3:"#0000cc", ECCOv4r4:"#ee00ee", ECCOv4r5_rc2:"#000000"
};
const widths = {EN4:4, ECCOv4r2:5, ECCOv4r3:5, ECCOv4r4:5, ECCOv4r5_rc2:5};
const S = 0.888;
const FONT = "'Liberation Sans', Arial, sans-serif";
const AFONT = "Inter, 'Noto Sans', sans-serif";

const lineMarks = seriesNames.map(n => Plot.line(seriesData[n], {
  x: d => d[0], y: d => d[1], stroke: colors[n], strokeWidth: widths[n] || 2.6,
  strokeLinejoin: "round", strokeLinecap: "round"
}));

const chart = Plot.plot({
  width: 4096, height: 1745,
  marginLeft: 227*S, marginRight: 4096 - 4546*S, marginTop: 60*S, marginBottom: 1745 - 1576*S,
  style: {background: "transparent", fontFamily: FONT, fontSize: "28px", color: "#222", overflow: "visible"},
  x: {domain: [1991.70, 2021.30]},
  y: {domain: [-0.3839, 0.2752]},
  marks: [
    Plot.gridX(xTicks, {stroke: "#e3e3e3", strokeOpacity: 1, strokeWidth: 2}),
    Plot.gridY(yTicks, {stroke: "#e3e3e3", strokeOpacity: 1, strokeWidth: 2}),
    ...lineMarks,
    Plot.frame({stroke: "#777", strokeWidth: 3}),
    Plot.axisX(xTicks, {tickSize: 16, tickPadding: 16, tickFormat: d => xTickLabels[xTicks.indexOf(d)], label: null, stroke: "#444", strokeWidth: 1.5}),
    Plot.axisY(yTicks, {tickSize: 20, tickPadding: 11, tickFormat: d => yTickLabels[yTicks.indexOf(d)], label: null, stroke: "#444", strokeWidth: 1.5})
  ]
});
document.getElementById("chart").appendChild(chart);

const svg = d3.select(chart);
function stretch(sel, k) {
  sel.each(function(){ const L = this.getComputedTextLength(); if (L > 0) { this.setAttribute("textLength", L*k); this.setAttribute("lengthAdjust","spacingAndGlyphs"); } });
}
function fitWidth(sel, w) { sel.attr("textLength", w).attr("lengthAdjust", "spacingAndGlyphs"); }
stretch(svg.selectAll('[aria-label="x-axis tick label"] text, [aria-label="y-axis tick label"] text'), 1.25);

// y label
svg.append("text").attr("transform", `translate(${117*S},${873*S}) rotate(-90)`)
  .attr("text-anchor","middle").attr("dy","0.35em")
  .attr("font-family",FONT).attr("font-size", 29).attr("fill","#222").text(yLabel);

// legend
const legendCols = [[0,1],[2,3],[4,5],[6,7],[8,9],[10,11]];
const swX = [1361,1663,2034,2455,2736,3058].map(v=>v*S);
const txX = [1445,1744,2114,2539,2820,3142].map(v=>v*S);
const rowY = [1740*S, 1801*S];
const lg = svg.append("g");
lg.append("rect").attr("x",1329*S).attr("y",1695*S).attr("width",(3439-1329)*S).attr("height",(1852-1695)*S)
  .attr("fill","#fff").attr("stroke","#777").attr("stroke-width",2.5);
legendCols.forEach((col, ci) => col.forEach((si, ri) => {
  const n = seriesNames[si];
  lg.append("line").attr("x1", swX[ci]).attr("x2", swX[ci]+56).attr("y1", rowY[ri]).attr("y2", rowY[ri])
    .attr("stroke", colors[n]).attr("stroke-width", 5.5);
  const t = lg.append("text").attr("x", txX[ci]).attr("y", rowY[ri]).attr("dy","0.35em").attr("text-anchor","start")
    .attr("font-family",FONT).attr("font-size", 24).attr("fill","#222").text(n);
  stretch(t, 1.47);
}));

// annotations
const ann = svg.append("g");
function pinkBox(x0,y0,x1,y1,tx,ty,tw,label){
  ann.append("rect").attr("x",x0*S).attr("y",y0*S).attr("width",(x1-x0)*S).attr("height",(y1-y0)*S).attr("fill","#ea5ca7");
  const t = ann.append("text").attr("x",tx*S).attr("y",ty*S).attr("text-anchor","start").attr("font-family",AFONT)
    .attr("font-size",129*S).attr("fill","#000").text(label);
  fitWidth(t, tw*S);
}
pinkBox(20,152,333,342,54,306,244,boxLabels[0]);
pinkBox(32,1085,320,1275,68,1237,218,boxLabels[1]);
const per = ann.append("text").attr("x",3917*S).attr("y",1730*S).attr("text-anchor","start").attr("font-family",AFONT)
  .attr("font-size",111*S).attr("fill","#000").text(periodLabel);
fitWidth(per, 601*S);
</script>
</body></html>
